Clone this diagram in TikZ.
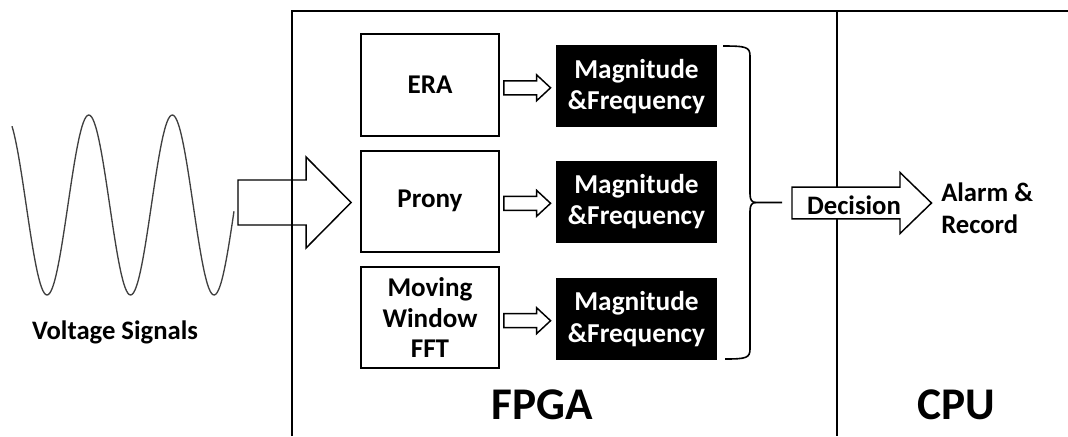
\documentclass[tikz,border=0pt]{standalone}
\usepackage{fontspec}
\setmainfont{Carlito}
\usetikzlibrary{calc}

\tikzset{
  frameline/.style={line width=1.5pt},
  boxline/.style={line width=1.4pt},
  algobox/.style={draw, boxline, fill=white, minimum width=103.5pt, minimum height=76pt,
    inner sep=0pt, align=center, font=\fontsize{20.3}{22.6}\selectfont\bfseries},
  resultbox/.style={fill=black, text=white, minimum width=121pt, minimum height=61.5pt,
    inner sep=0pt, align=center, font=\fontsize{20.5}{23.5}\selectfont\bfseries},
  label/.style={inner sep=0pt, align=center, font=\fontsize{20}{23.8}\selectfont\bfseries},
  title/.style={inner sep=0pt, font=\fontsize{34}{40}\selectfont\bfseries},
  hollow/.style={draw, line width=1.1pt, line join=miter},
  wave/.style={line width=1pt, color=black!75},
}

% hollow block arrow: #2 start, #3 tip, #4 shaft half-height, #5 head half-height, #6 head length
\newcommand\blockarrow[6][]{%
  \path[hollow,#1] ($(#2)+(0,-#4)$) -- ($(#3)+(-#6,-#4)$) -- ($(#3)+(-#6,-#5)$) -- (#3)
    -- ($(#3)+(-#6,#5)$) -- ($(#3)+(-#6,#4)$) -- ($(#2)+(0,#4)$) -- cycle;}

\begin{document}
\begin{tikzpicture}[x=0.75pt, y=-0.75pt]
  \useasboundingbox (0,0) rectangle (1068,436);

  % FPGA / CPU frame
  \draw[frameline] (292,436) -- (292,11) -- (1068,11);
  \draw[frameline] (837,11) -- (837,436);

  % input signal (period 83.5, so 360/83.5 degrees per unit)
  \draw[wave, smooth, samples=160, domain=12:234]
    plot (\x, {205 - 90*cos(4.31138*(\x-5.3))});
  \coordinate (wend) at (234,202.5);
  \node[label] (vs) at (115,332) {Voltage Signals};

  % estimation algorithms
  \node[algobox] (era)   at (430,85)    {ERA};
  \node[algobox] (prony) at (430,201.3) {Prony};
  \node[algobox] (mwf)   at (430,317.5) {Moving\\Window\\FFT};

  % their outputs
  \node[resultbox] (m1) at (636.5,86.3)  {Magnitude\\\&Frequency};
  \node[resultbox] (m2) at (636.5,201.8) {Magnitude\\\&Frequency};
  \node[resultbox] (m3) at (636.5,319.2) {Magnitude\\\&Frequency};

  % signal into the FPGA
  \coordinate (bigA) at ($(wend)+(4,0)$);
  \coordinate (bigB) at ($(prony.west |- bigA)+(-9,0)$);
  \blockarrow{bigA}{bigB}{22.5}{45.5}{45}

  % algorithm -> result arrows
  \foreach \a/\m in {era/m1, prony/m2, mwf/m3}{
    \coordinate (sa) at ($(\a.east |- \m.west)+(4,1.5)$);
    \coordinate (sb) at ($(\m.west)+(-5,1.5)$);
    \blockarrow{sa}{sb}{7}{13}{14}
  }

  % brace gathering the results
  \coordinate (btip) at (782,202.5);
  \draw[line width=1.2pt]
    (723,46) .. controls (746,46) and (750,47) .. (750,56) -- (750,194)
    .. controls (750,200) and (752,202.5) .. (756,202.5) -- (btip);
  \draw[line width=1.2pt]
    (756,202.5) .. controls (752,202.5) and (750,205) .. (750,211) -- (750,349)
    .. controls (750,358) and (746,359) .. (725,359);

  % decision into the CPU
  \coordinate (dA) at ($(btip)+(10,0.5)$);
  \coordinate (dB) at (931.5,203);
  \blockarrow[fill=white]{dA}{dB}{15.8}{30.5}{31.5}
  \node[label] (dec) at (854,205) {Decision};
  \node[label, align=left, anchor=west] (alarm) at (941,208) {Alarm \&\\Record};

  % section titles
  \node[title] (fpga) at (542.5,405) {FPGA};
  \node[title] (cpu)  at (956,405)   {CPU};
\end{tikzpicture}
\end{document}
